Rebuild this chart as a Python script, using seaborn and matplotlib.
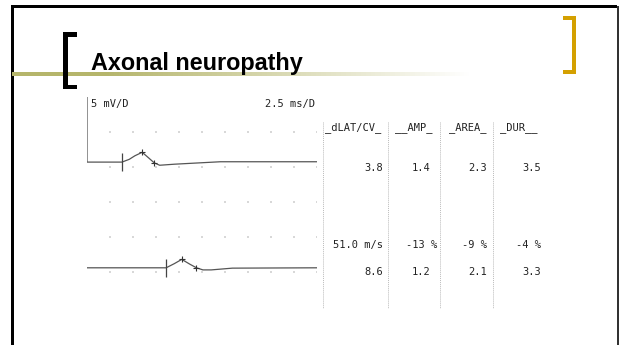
import numpy as np
import pandas as pd
import matplotlib
matplotlib.use("Agg")
import matplotlib.pyplot as plt
import seaborn as sns

sns.set_theme(style="white")
plt.rcParams["font.family"] = ["DejaVu Sans"]

W, H = 620, 345

# Compound muscle action potentials: time (ms) and amplitude (mV)
wave1_t = [0.0, 0.0, 3.8, 4.6, 5.2, 6.0, 6.7, 7.3, 7.9, 9.5, 14.5, 25.0]
wave1_mv = [9.4, 0.0, 0.0, 0.4, 0.9, 1.4, 0.6, -0.1, -0.45, -0.3, 0.05, 0.05]
wave2_t = [0.0, 8.6, 9.5, 10.3, 11.2, 11.9, 12.6, 13.5, 15.8, 25.0]
wave2_mv = [0.0, 0.0, 0.6, 1.2, 0.5, 0.0, -0.3, -0.3, -0.05, 0.0]
peak_t = [6.0, 10.3]

# Measurement table
headers = ["_dLAT/CV_", "__AMP_", "_AREA_", "_DUR__"]
dlat = [3.8, 8.6]
amp = [1.4, 1.2]
area = [2.3, 2.1]
dur = [3.5, 3.3]
cv = 51.0
change_pct = [-13, -9, -4]

title = "Axonal neuropathy"
gain_label = "5 mV/D"
sweep_label = "2.5 ms/D"

fig = plt.figure(figsize=(W / 100, H / 100), dpi=100)
fig.patch.set_facecolor("white")

# ---- slide decoration layer (pixel coordinates) ----
deco = fig.add_axes([0, 0, 1, 1])
deco.set_xlim(0, W)
deco.set_ylim(H, 0)
deco.axis("off")

# frame
deco.add_patch(plt.Rectangle((11, 5), 606, 2.5, color="black", lw=0))
deco.add_patch(plt.Rectangle((11, 5), 2.5, 345, color="black", lw=0))
deco.add_patch(plt.Rectangle((616.5, 6), 2.5, 345, color="#333333", lw=0))

# gradient rule under the title
olive = np.array([0.71, 0.71, 0.42])
xs = np.linspace(0, 1, 400)
fade = np.clip((xs - 0.2) / 0.8, 0, 1)
grad = olive[None, :] * (1 - fade[:, None]) + fade[:, None] * 1.0
deco.imshow(grad[None, :, :], extent=[12, 470, 76, 72], aspect="auto", zorder=1)

# black bracket
deco.add_patch(plt.Rectangle((63, 32), 5, 57, color="black", lw=0, zorder=3))
deco.add_patch(plt.Rectangle((63, 32), 14, 4.5, color="black", lw=0, zorder=3))
deco.add_patch(plt.Rectangle((63, 84.5), 14, 4.5, color="black", lw=0, zorder=3))
# gold bracket
gold = "#D4A000"
deco.add_patch(plt.Rectangle((571.5, 16), 4.5, 58, color=gold, lw=0))
deco.add_patch(plt.Rectangle((563, 16), 13, 4, color=gold, lw=0))
deco.add_patch(plt.Rectangle((563, 70), 13, 4, color=gold, lw=0))

deco.text(91, 70, title, family="Liberation Sans", weight="bold", fontsize=16.8,
          color="black", va="baseline", ha="left", zorder=4)

# ---- table ----
mono = dict(family="DejaVu Sans Mono", fontsize=7.5, color="#222222")
for xv in [323, 388, 440, 493]:
    deco.plot([xv, xv], [122, 308], color="#bbbbbb", lw=0.7, ls=(0, (1, 1)))

header_x = [325, 395, 449, 500]
for hx, h in zip(header_x, headers):
    deco.text(hx, 128, h, ha="left", va="center", **mono)

col_right = [383, 430, 487, 541]
row_y = [168, 272]
for i, ry in enumerate(row_y):
    vals = [dlat[i], amp[i], area[i], dur[i]]
    for cx, v in zip(col_right, vals):
        deco.text(cx, ry, f"{v:.1f}", ha="right", va="center", **mono)

pct_right = [437, 487, 541]
deco.text(383, 245, f"{cv:.1f} m/s", ha="right", va="center", **mono)
for cx, p in zip(pct_right, change_pct):
    deco.text(cx, 245, f"{p} %", ha="right", va="center", **mono)

# ---- waveform screen (ms horizontally, mV vertically) ----
x0, x1, ytop, ybot = 87, 317, 97, 307
ax = fig.add_axes([x0 / W, 1 - ybot / H, (x1 - x0) / W, (ybot - ytop) / H])
ax.set_facecolor("none")
ax.set_xlim(0, 25)
ax.set_ylim(0, 30)
ax.axis("off")

base = [20.7, 5.6]

# graticule dots every 2.5 ms / 5 mV
gx, gy = np.meshgrid(np.arange(1, 11) * 2.5, np.arange(1, 6) * 5.0)
grid = pd.DataFrame({"t": gx.ravel(), "v": gy.ravel()})
sns.scatterplot(data=grid, x="t", y="v", ax=ax, s=1.2, color="#aaaaaa",
                edgecolor="none", legend=False, zorder=1)

traces = pd.concat([
    pd.DataFrame({"t": wave1_t, "v": np.array(wave1_mv) + base[0], "trace": "1",
                  "order": range(len(wave1_t))}),
    pd.DataFrame({"t": wave2_t, "v": np.array(wave2_mv) + base[1], "trace": "2",
                  "order": range(len(wave2_t))}),
])
sns.lineplot(data=traces, x="t", y="v", units="trace", estimator=None, sort=False,
             color="#555555", lw=0.9, ax=ax, legend=False, zorder=2)

waves = [(wave1_t, wave1_mv), (wave2_t, wave2_mv)]
for i in range(2):
    t, mv = waves[i]
    ax.plot([dlat[i]], [base[i]], marker="|", ms=13, mew=0.9, color="#444444", zorder=3)
    ax.plot([peak_t[i]], [base[i] + amp[i]], marker="+", ms=4.5, mew=0.8, color="#333333", zorder=3)
    te = dlat[i] + dur[i]
    ve = np.interp(te, t[1:] if i == 0 else t, mv[1:] if i == 0 else mv)
    ax.plot([te], [base[i] + ve], marker="+", ms=4.5, mew=0.8, color="#333333", zorder=3)

deco.text(91, 104, gain_label, ha="left", va="center", **mono)
deco.text(315, 104, sweep_label, ha="right", va="center", **mono)

fig.savefig("out.png", dpi=100, facecolor="white")
